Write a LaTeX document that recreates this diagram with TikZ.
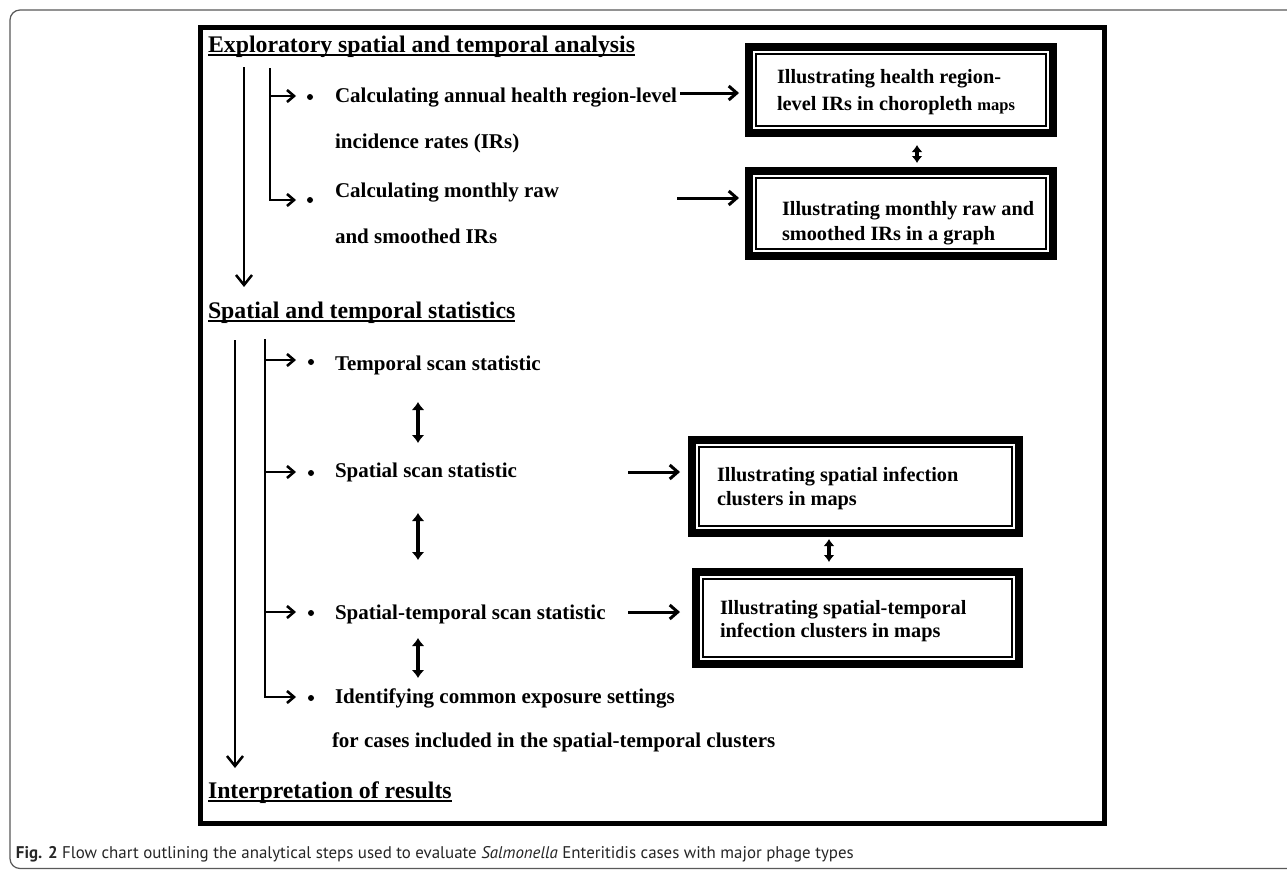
\documentclass[tikz,border=0pt]{standalone}
\usepackage{fontspec}
\setmainfont{Liberation Serif}
\newfontfamily\capfont{PT Sans}
\usetikzlibrary{arrows.meta,calc}
\begin{document}
\begin{tikzpicture}[x=1pt,y=-1pt,
  every node/.style={inner sep=0pt, outer sep=0pt},
  ttl/.style={anchor=base west, font=\fontsize{23.8}{28}\selectfont\bfseries},
  body/.style={anchor=base west, font=\fontsize{21}{25}\selectfont\bfseries},
  boxtxt/.style={anchor=base west, font=\fontsize{20.3}{24}\selectfont\bfseries},
  outbox/.style={draw, line width=8pt, rectangle},
  inline/.style={line width=1.3pt},
  uline/.style={line width=1.6pt},
  hmain/.style={line width=3pt, -{Straight Barb[length=8pt,width=14pt]}},
  vmain/.style={line width=2.5pt, -{Straight Barb[length=10pt,width=16pt]}},
  brline/.style={line width=2.5pt},
  branch/.style={line width=2.6pt, -{Straight Barb[length=7pt,width=12pt]}},
  dbl/.style={line width=4pt, {Latex[length=8pt,width=13pt]}-{Latex[length=8pt,width=13pt]}},
  sdbl/.style={line width=3.5pt, {Latex[length=7pt,width=11pt]}-{Latex[length=7pt,width=11pt]}},
  bul/.style={circle, fill, minimum size=6pt}
]
\useasboundingbox (0,0) rectangle (1287,870);
\fill[white] (0,0) rectangle (1287,870);

% outer rounded frame
\draw[black!65, line width=1.2pt, rounded corners=10pt] (1295,10) -- (10,10) -- (10,868.5) -- (1295,868.5);

% inner frame
\node[draw, line width=5pt, minimum width=903.5pt, minimum height=796pt] (frame) at (652.25,425.5) {};

% ---------- section 1 ----------
\node[ttl] (t1) at (208,52) {Exploratory spatial and temporal analysis};
\draw[uline] ([yshift=-3pt]t1.base west) -- ([yshift=-3pt]t1.base east);

\coordinate (m1s) at (244,67);
\coordinate (m1e) at (244,287);
\draw[vmain] (m1s) -- (m1e);

\coordinate (k1top) at (270,68);
\coordinate (j1) at (270,96);
\coordinate (a1) at (296,96);
\coordinate (a2) at (296,200);
\draw[brline] (k1top) -- (j1);
\draw[branch] (j1) -- (a1);
\draw[branch] (j1) |- (a2);
\node[bul] (u1) at (310,97) {};
\node[bul] (u2) at (310,200) {};

\node[body] (s1a) at (335,102) {Calculating annual health region-level};
\node[body] (s1b) at (335,148) {incidence rates (IRs)};
\node[body] (s1c) at (335,197) {Calculating monthly raw};
\node[body] (s1d) at (335,243) {and smoothed IRs};

\node[outbox, minimum width=304pt, minimum height=86pt] (b1) at (901,90) {};
\draw[inline] ([shift={(7,7)}]b1.north west) rectangle ([shift={(-7,-7)}]b1.south east);
\node[outbox, minimum width=304pt, minimum height=85pt] (b2) at (901,213.5) {};
\draw[inline] ([shift={(7,7)}]b2.north west) rectangle ([shift={(-7,-7)}]b2.south east);

\node[boxtxt] (b1a) at (777,83) {Illustrating health region-};
\node[boxtxt] (b1b) at (777,110) {level IRs in choropleth {\fontsize{16.5}{20}\selectfont maps}};
\node[boxtxt] (b2a) at (782,215) {Illustrating monthly raw and};
\node[boxtxt] (b2b) at (782,240) {smoothed IRs in a graph};

\coordinate (h1s) at (680,93);
\coordinate (h2s) at (677,198);
\draw[hmain, shorten >=10pt] (h1s) -- (h1s -| b1.west);
\draw[hmain, shorten >=10pt] (h2s) -- (h2s -| b2.west);

\coordinate (x12) at (917,0);
\draw[sdbl, shorten <=12pt, shorten >=8pt] (b1.south -| x12) -- (b2.north -| x12);

% ---------- section 2 ----------
\node[ttl] (t2) at (208,318) {Spatial and temporal statistics};
\draw[uline] ([yshift=-3pt]t2.base west) -- ([yshift=-3pt]t2.base east);

\coordinate (m2s) at (235,340);
\coordinate (m2e) at (235,768);
\draw[vmain] (m2s) -- (m2e);

\coordinate (k2top) at (265,339);
\coordinate (j3) at (265,360);
\coordinate (j4) at (265,472);
\coordinate (j5) at (265,612);
\coordinate (a3) at (296,360);
\coordinate (a4) at (296,472);
\coordinate (a5) at (296,612);
\coordinate (a6) at (296,697);
\draw[brline] (k2top) -- (j5);
\draw[branch] (j3) -- (a3);
\draw[branch] (j4) -- (a4);
\draw[branch] (j5) -- (a5);
\draw[branch] (j5) |- (a6);
\node[bul] (u3) at (311,362) {};
\node[bul] (u4) at (311,473) {};
\node[bul] (u5) at (311,613) {};
\node[bul] (u6) at (311,698) {};

\node[body] (s2a) at (335,370) {Temporal scan statistic};
\node[body] (s2b) at (335,477) {Spatial scan statistic};
\node[body] (s2c) at (335,619) {Spatial-temporal scan statistic};
\node[body] (s2d) at (335,703) {Identifying common exposure settings};
\node[body] (s2e) at (332,747) {for cases included in the spatial-temporal clusters};

\coordinate (d1a) at (418,402);
\coordinate (d1b) at (418,443);
\coordinate (d2a) at (418,513);
\coordinate (d2b) at (418,560);
\coordinate (d3a) at (418,638);
\coordinate (d3b) at (418,678);
\draw[dbl] (d1a) -- (d1b);
\draw[dbl] (d2a) -- (d2b);
\draw[dbl] (d3a) -- (d3b);

\node[outbox, minimum width=327pt, minimum height=93pt] (b3) at (855.5,486.5) {};
\draw[inline] ([shift={(7,7)}]b3.north west) rectangle ([shift={(-7,-7)}]b3.south east);
\node[outbox, minimum width=323pt, minimum height=92pt] (b4) at (857.5,618) {};
\draw[inline] ([shift={(7,7)}]b4.north west) rectangle ([shift={(-7,-7)}]b4.south east);

\node[boxtxt] (b3a) at (717,481) {Illustrating spatial infection};
\node[boxtxt] (b3b) at (717,505) {clusters in maps};
\node[boxtxt] (b4a) at (720,614) {Illustrating spatial-temporal};
\node[boxtxt] (b4b) at (720,637) {infection clusters in maps};

\coordinate (h3s) at (628,472);
\coordinate (h4s) at (628,612);
\draw[hmain, shorten >=12pt] (h3s) -- (h3s -| b3.west);
\draw[hmain, shorten >=16pt] (h4s) -- (h4s -| b4.west);

\coordinate (x34) at (829,0);
\draw[sdbl, shorten <=6pt, shorten >=10pt] (b3.south -| x34) -- (b4.north -| x34);

% ---------- section 3 ----------
\node[ttl] (t3) at (208,798) {Interpretation of results};
\draw[uline] ([yshift=-3pt]t3.base west) -- ([yshift=-3pt]t3.base east);

% caption
\node[anchor=base west, text=black!85, font=\capfont\fontsize{16.9}{20}\selectfont] (cap) at (16,858)
  {\textbf{Fig. 2} Flow chart outlining the analytical steps used to evaluate \textit{Salmonella} Enteritidis cases with major phage types};
\end{tikzpicture}
\end{document}
